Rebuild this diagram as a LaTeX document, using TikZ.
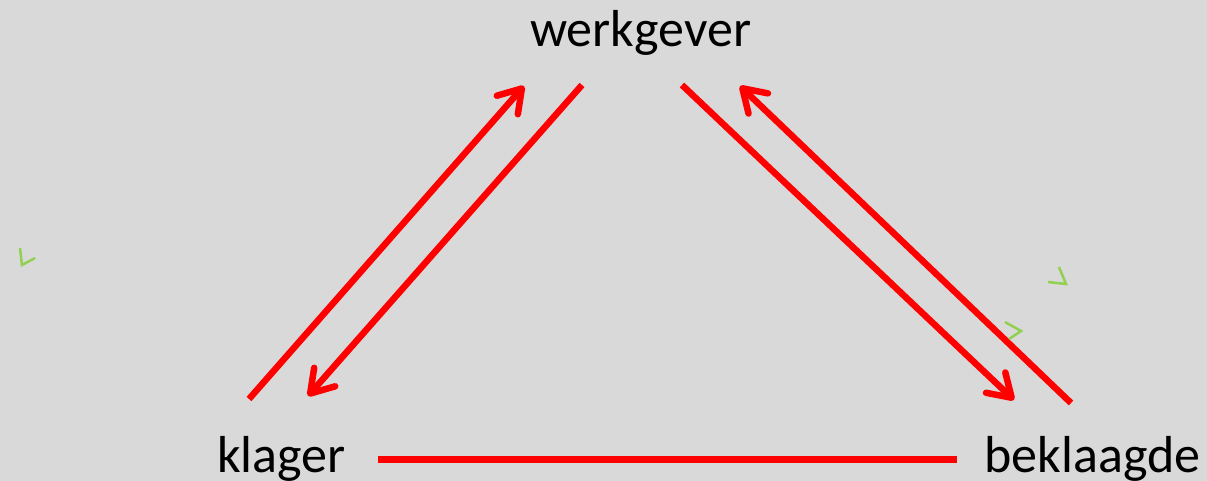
\documentclass[tikz,border=0pt]{standalone}
\usepackage{fontspec}
\setmainfont{Carlito}
\usetikzlibrary{arrows.meta}
\definecolor{bg}{HTML}{D9D9D9}
\definecolor{mark}{HTML}{92D050}
\begin{document}
\begin{tikzpicture}[x=1pt,y=-1pt,
  lbl/.style={anchor=base,inner sep=0pt,font=\fontsize{52}{60}\selectfont},
  rel/.style={draw=red,line width=6.5pt},
  relarrow/.style={rel,-{Straight Barb[length=22pt,width=28pt,line cap=round,line join=round]}},
  tick/.style={draw=mark,line width=2.5pt}]
\fill[bg] (0,0) rectangle (1207,481);
\useasboundingbox (0,0) rectangle (1207,481);
\node[lbl] (w) at (640.5,47) {werkgever};
\node[lbl] (k) at (281.5,472) {klager};
\node[lbl] (b) at (1092.5,472) {beklaagde};
\coordinate (a1s) at (249,399);
\coordinate (a1e) at (524,86);
\coordinate (a2s) at (582,85);
\coordinate (a2e) at (308,396);
\coordinate (a3s) at (682,85);
\coordinate (a3e) at (1014,400);
\coordinate (a4s) at (1071,403);
\coordinate (a4e) at (740,86);
\coordinate (ls) at (378,459.5);
\coordinate (le) at (957,459.5);
\draw[relarrow] (a1s) -- (a1e);
\draw[relarrow] (a2s) -- (a2e);
\draw[relarrow] (a3s) -- (a3e);
\draw[relarrow] (a4s) -- (a4e);
\draw[rel] (ls) -- (le);
\draw[tick] (20,248) -- (22,265) -- (35,258);
\draw[tick] (1059,267) -- (1066,284) -- (1048,282);
\draw[tick] (1005,322) -- (1021,331) -- (1009,339);
\end{tikzpicture}
\end{document}
